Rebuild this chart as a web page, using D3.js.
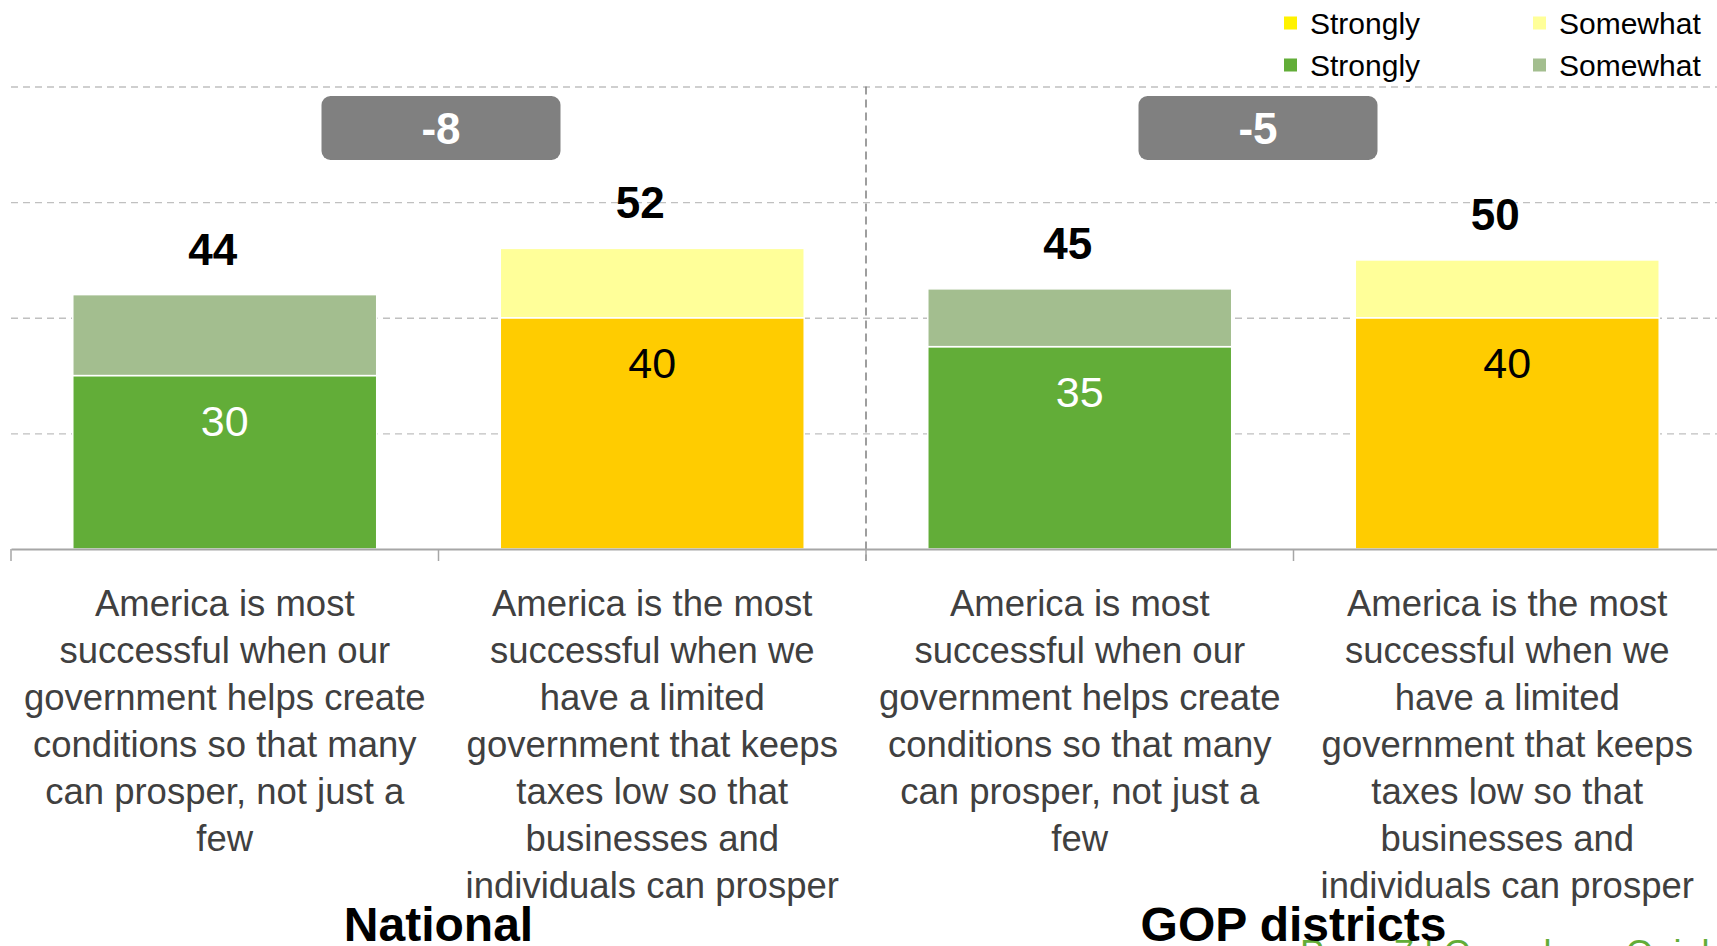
<!DOCTYPE html>
<html><head><meta charset="utf-8">
<script src="https://cdn.jsdelivr.net/npm/d3@7"></script>
<style>
html,body{margin:0;padding:0;background:#fff;overflow:hidden;}
svg{display:block;font-family:"Liberation Sans",Arial,sans-serif;}
</style></head>
<body>
<svg id="chart" width="1717" height="946"></svg>
<script>
// ---- data ----
const categories = ["helpsNat", "limitedNat", "helpsGOP", "limitedGOP"];
const strongly = [30, 40, 35, 40];
const somewhat = [14, 12, 10, 10];
const totals = [44, 52, 45, 50];
const sideColor = ["green", "yellow", "green", "yellow"];
const sections = ["National", "GOP districts"];
const gaps = ["-8", "-5"];
const labelHelps = ["America is most", "successful when our", "government helps create", "conditions so that many", "can prosper, not just a", "few"];
const labelLimited = ["America is the most", "successful when we", "have a limited", "government that keeps", "taxes low so that", "businesses and", "individuals can prosper"];
const categoryLabels = [labelHelps, labelLimited, labelHelps, labelLimited];
const legendItems = [
  {label: "Strongly", color: "#FFF200"},
  {label: "Somewhat", color: "#FFFF99"},
  {label: "Strongly", color: "#62AD38"},
  {label: "Somewhat", color: "#A3BE8F"}
];
const yTicks = [20, 40, 60, 80];
const footer = "Page 7 | Greenberg Quinlan Rosner";

(function () {
// ---- styles ----
const colors = {
  green: {strong: "#62AD38", some: "#A3BE8F", text: "#FFFFFF"},
  yellow: {strong: "#FFCC00", some: "#FFFF99", text: "#000000"}
};

const svg = d3.select("#chart");
const mLeft = 11, mRight = 1721, mTop = 86.5, mBottom = 549;

const x = d3.scaleBand().domain(categories).range([mLeft, mRight]).padding(0);
const y = d3.scaleLinear().domain([0, 80]).range([mBottom, mTop]);
const bw = x.bandwidth() * 0.711;

// gridlines
const grid = svg.append("g").attr("transform", `translate(${mLeft},0)`)
  .call(d3.axisLeft(y).tickValues(yTicks).tickSize(-(1717 - mLeft)).tickFormat(""));
grid.select(".domain").remove();
grid.selectAll(".tick line").attr("stroke", "#C0C0C0").attr("stroke-width", 1.3).attr("stroke-dasharray", "7,5");

// vertical divider
const divX = x(categories[2]);
svg.append("line").attr("x1", divX).attr("x2", divX).attr("y1", y(80)).attr("y2", mBottom + 12)
  .attr("stroke", "#7F7F7F").attr("stroke-width", 1.5).attr("stroke-dasharray", "8,5");

// bars
const bars = svg.append("g");
categories.forEach((c, i) => {
  const cx = x(c) + x.bandwidth() / 2;
  const col = colors[sideColor[i]];
  bars.append("rect").attr("x", cx - bw / 2).attr("width", bw)
    .attr("y", y(strongly[i])).attr("height", y(0) - y(strongly[i]))
    .attr("fill", col.strong).attr("stroke", "#fff").attr("stroke-width", 1.5);
  bars.append("rect").attr("x", cx - bw / 2).attr("width", bw)
    .attr("y", y(totals[i])).attr("height", y(strongly[i]) - y(totals[i]))
    .attr("fill", col.some).attr("stroke", "#fff").attr("stroke-width", 1.5);
  svg.append("text").attr("x", cx).attr("y", y(strongly[i]) + 60)
    .attr("text-anchor", "middle").attr("font-size", 43).attr("fill", col.text)
    .text(strongly[i]);
  svg.append("text").attr("x", cx - 12).attr("y", y(totals[i]) - 30)
    .attr("text-anchor", "middle").attr("font-size", 44).attr("font-weight", "bold").attr("fill", "#000")
    .text(totals[i]);
  const t = svg.append("text").attr("text-anchor", "middle").attr("font-size", 36.5).attr("fill", "#404040");
  categoryLabels[i].forEach((line, k) => {
    t.append("tspan").attr("x", cx).attr("y", 616 + k * 47).text(line);
  });
});

// x axis
const ax = svg.append("g").attr("transform", `translate(0,${mBottom})`)
  .call(d3.axisBottom(x).tickSize(0).tickFormat(""));
ax.select(".domain").attr("stroke", "#A6A6A6").attr("stroke-width", 2);
[0, 1, 2, 3, 4].forEach(k => {
  const bx = mLeft + k * x.bandwidth();
  svg.append("line").attr("x1", bx).attr("x2", bx).attr("y1", mBottom).attr("y2", mBottom + 12)
    .attr("stroke", "#A6A6A6").attr("stroke-width", 1.5);
});

// gap boxes
const boxCenters = [441, 1258];
gaps.forEach((g, j) => {
  const bx = boxCenters[j];
  svg.append("rect").attr("x", bx - 119.5).attr("y", 96).attr("width", 239).attr("height", 64)
    .attr("rx", 9).attr("fill", "#808080");
  svg.append("text").attr("x", bx).attr("y", 144).attr("text-anchor", "middle")
    .attr("font-size", 44).attr("font-weight", "bold").attr("fill", "#fff").text(g);
});

// footer (partially cut off)
svg.append("text").attr("x", 1300).attr("y", 966).attr("font-size", 36).attr("fill", "#62AD38").text(footer);

// section titles
sections.forEach((s, j) => {
  const cx = x(categories[j * 2]) + x.bandwidth();
  svg.append("text").attr("x", cx).attr("y", 941).attr("text-anchor", "middle")
    .attr("font-size", 48).attr("font-weight", "bold").attr("fill", "#000").text(s);
});

// legend
const lg = svg.append("g");
legendItems.forEach((d, i) => {
  const col = i % 2, row = Math.floor(i / 2);
  const lx = 1284 + col * 249, ly = 23 + row * 42;
  lg.append("rect").attr("x", lx).attr("y", ly - 6.5).attr("width", 13).attr("height", 13).attr("fill", d.color);
  lg.append("text").attr("x", lx + 26).attr("y", ly + 11).attr("font-size", 30).attr("fill", "#000").text(d.label);
});
})();
</script>
</body></html>
